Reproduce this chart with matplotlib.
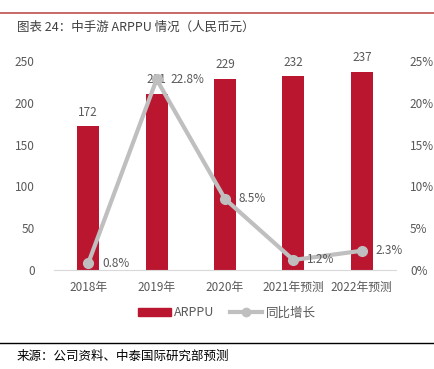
import numpy as np
import matplotlib.pyplot as plt
from matplotlib.lines import Line2D
from matplotlib.patches import Patch

plt.rcParams['font.family'] = ['Noto Sans CJK SC', 'DejaVu Sans']

# data
years = ['2018年', '2019年', '2020年', '2021年预测', '2022年预测']
arppu = [172, 211, 229, 232, 237]
growth = [0.8, 22.8, 8.5, 1.2, 2.3]

bar_color = '#BA1630'
line_color = '#BFBFBF'
text_color = '#595959'

fig = plt.figure(figsize=(4.34, 3.69), dpi=100)

# top red rule and bottom black rule
fig.add_artist(Line2D([0, 1], [1 - 13/369, 1 - 13/369], color='#C0504D', lw=1.2))
fig.add_artist(Line2D([0, 1], [1 - 343/369, 1 - 343/369], color='black', lw=1.0))
fig.text(17/434, 1 - 27/369, '图表 24：中手游 ARPPU 情况（人民币元）', fontsize=9,
         color='#404040', va='center')
fig.text(17/434, 1 - 356/369, '来源：公司资料、中泰国际研究部预测', fontsize=9,
         color='black', va='center')

ax = fig.add_axes([54/434, 1 - 270/369, 342/434, 209/369])
x = np.arange(len(years))
ax.bar(x, arppu, width=0.32, color=bar_color, zorder=2)
for xi, v in zip(x, arppu):
    ax.text(xi, v + 9, str(v), ha='center', va='bottom', fontsize=8.5, color=text_color)

ax.set_xlim(-0.5, 4.5)
ax.set_ylim(0, 250)
ax.set_yticks(range(0, 251, 50))
ax.set_xticks(x)
ax.set_xticklabels(years)
for s in ['top', 'right', 'left']:
    ax.spines[s].set_visible(False)
ax.spines['bottom'].set_color('#D9D9D9')
ax.tick_params(axis='both', length=0, labelsize=8.5, labelcolor=text_color)
ax.tick_params(axis='x', pad=8)
ax.tick_params(axis='y', pad=14)

ax2 = ax.twinx()
ax2.plot(x, growth, color=line_color, lw=3, marker='o', markersize=7, zorder=3)
for xi, g in zip(x, growth):
    ax2.text(xi + 0.2, g, f'{g}%', ha='left', va='center', fontsize=8.5, color=text_color)
ax2.set_ylim(0, 25)
ax2.set_yticks(range(0, 26, 5))
ax2.set_yticklabels([f'{t}%' for t in range(0, 26, 5)])
for s in ax2.spines.values():
    s.set_visible(False)
ax2.tick_params(axis='y', length=0, labelsize=8.5, labelcolor=text_color, pad=10)

handles = [Patch(color=bar_color, label='ARPPU'),
           Line2D([], [], color=line_color, lw=3, marker='o', markersize=6, label='同比增长')]
fig.legend(handles=handles, loc='center', bbox_to_anchor=(227/434, 1 - 313/369), ncol=2,
           frameon=False, fontsize=9, labelcolor=text_color, handlelength=2.6,
           handleheight=0.6, columnspacing=1.2, handletextpad=0.3)

fig.savefig('out.png', dpi=100)
